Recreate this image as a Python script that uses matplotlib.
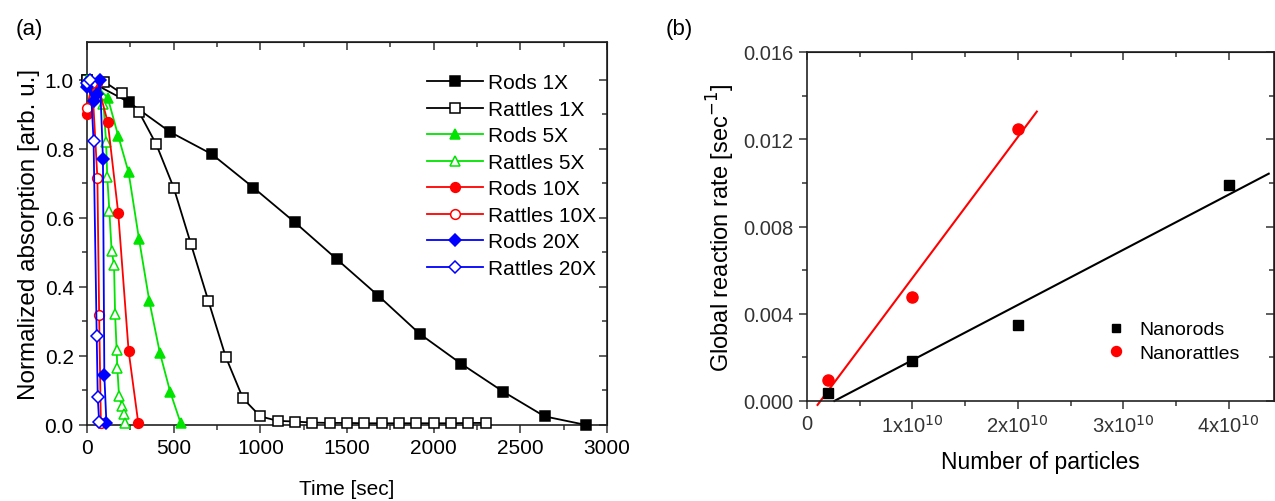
import numpy as np
import matplotlib
matplotlib.use("Agg")
import matplotlib.pyplot as plt
from matplotlib.ticker import MultipleLocator, FixedLocator

plt.rcParams['font.family'] = ['Liberation Sans', 'DejaVu Sans']

# ---- panel (a): normalized absorption vs time ----
rods1_t = [0, 240, 480, 720, 960, 1200, 1440, 1680, 1920, 2160, 2400, 2640, 2880]
rods1_y = [1.0, 0.936, 0.849, 0.785, 0.688, 0.587, 0.481, 0.375, 0.264, 0.177, 0.097, 0.025, 0.0]

rattles1_t = [0, 100, 200, 300, 400, 500, 600, 700, 800, 900, 1000, 1100, 1200,
              1300, 1400, 1500, 1600, 1700, 1800, 1900, 2000, 2100, 2200, 2300]
rattles1_y = [1.0, 0.995, 0.961, 0.907, 0.813, 0.688, 0.524, 0.360, 0.198, 0.077, 0.025,
              0.012, 0.01, 0.007, 0.006, 0.006, 0.005, 0.005, 0.005, 0.005, 0.005, 0.005, 0.006, 0.006]

rods5_t = [0, 60, 120, 180, 240, 300, 360, 420, 480, 540]
rods5_y = [1.0, 0.98, 0.948, 0.838, 0.732, 0.539, 0.358, 0.21, 0.096, 0.006]

rattles5_t = [0, 60, 95, 110, 117, 129, 142, 156, 162, 171, 175, 185, 200, 213, 219]
rattles5_y = [1.0, 0.98, 0.93, 0.82, 0.718, 0.621, 0.505, 0.464, 0.322, 0.218, 0.165,
              0.083, 0.056, 0.032, 0.006]

rods10_t = [0, 60, 120, 180, 240, 296]
rods10_y = [0.90, 0.99, 0.877, 0.615, 0.215, 0.005]

rattles10_t = [0, 30, 60, 70, 80]
rattles10_y = [0.92, 0.99, 0.715, 0.32, 0.005]

rods20_t = [0, 40, 60, 75, 92, 100, 112]
rods20_y = [0.98, 0.94, 0.96, 1.0, 0.772, 0.145, 0.005]

rattles20_t = [0, 20, 38, 56, 62, 70]
rattles20_y = [0.99, 1.0, 0.822, 0.258, 0.082, 0.008]

# ---- panel (b): global reaction rate vs number of particles ----
nrods_n = [0.2e10, 1e10, 2e10, 4e10]
nrods_k = [0.00037, 0.00182, 0.0035, 0.0099]
nrattles_n = [0.2e10, 1e10, 2e10]
nrattles_k = [0.00095, 0.00477, 0.01249]
nrods_fit_n = [0.26e10, 4.38e10]
nrattles_fit_n = [0.10e10, 2.18e10]
xb_ticks = [0, 1e10, 2e10, 3e10, 4e10]
xb_labels = ['0', r'1x10$^{10}$', r'2x10$^{10}$', r'3x10$^{10}$', r'4x10$^{10}$']

GREEN = '#00e400'
RED = '#ff0000'
BLUE = '#0000ff'

fig = plt.figure(figsize=(12.75, 5.02), dpi=100)
ax1 = fig.add_axes([87/1275, 1 - 426/502, 520/1275, 383/502])
ax2 = fig.add_axes([807/1275, 1 - 402/502, 467/1275, 349/502])

series = [
    (rods1_t, rods1_y, 'k', 's', True, 'Rods 1X'),
    (rattles1_t, rattles1_y, 'k', 's', False, 'Rattles 1X'),
    (rods5_t, rods5_y, GREEN, '^', True, 'Rods 5X'),
    (rattles5_t, rattles5_y, GREEN, '^', False, 'Rattles 5X'),
    (rods10_t, rods10_y, RED, 'o', True, 'Rods 10X'),
    (rattles10_t, rattles10_y, RED, 'o', False, 'Rattles 10X'),
    (rods20_t, rods20_y, BLUE, 'D', True, 'Rods 20X'),
    (rattles20_t, rattles20_y, BLUE, 'D', False, 'Rattles 20X'),
]
for t, y, c, m, filled, lab in series:
    ms = 6 if m == 'D' else 7
    ax1.plot(t, y, color=c, marker=m, ms=ms, lw=1.3, mew=1.1,
             mfc=c if filled else 'white', mec=c, label=lab, clip_on=False, zorder=3)

ax1.set_xlim(0, 3000)
ax1.set_ylim(0, 1.11)
ax1.xaxis.set_major_locator(MultipleLocator(500))
ax1.xaxis.set_minor_locator(MultipleLocator(250))
ax1.yaxis.set_major_locator(FixedLocator([0, 0.2, 0.4, 0.6, 0.8, 1.0]))
ax1.yaxis.set_minor_locator(FixedLocator([0.1, 0.3, 0.5, 0.7, 0.9]))
ax1.set_xlabel('Time [sec]', fontsize=15, labelpad=16)
ax1.set_ylabel('Normalized absorption [arb. u.]', fontsize=17.5, labelpad=3)
leg1 = ax1.legend(loc='upper right', bbox_to_anchor=(1.0, 0.945), frameon=False,
                  fontsize=15, handlelength=2.7, handletextpad=0.25,
                  labelspacing=0.36, borderaxespad=0.1)

ax2.plot(nrods_n, nrods_k, 's', color='k', ms=7, label='Nanorods', clip_on=False, zorder=3)
ax2.plot(nrattles_n, nrattles_k, 'o', color=RED, ms=8, label='Nanorattles', clip_on=False, zorder=3)
p_rods = np.polyfit(nrods_n, nrods_k, 1)
p_rat = np.polyfit(nrattles_n, nrattles_k, 1)
ax2.plot(nrods_fit_n, np.polyval(p_rods, nrods_fit_n), color='k', lw=1.5, clip_on=False)
ax2.plot(nrattles_fit_n, np.polyval(p_rat, nrattles_fit_n), color=RED, lw=1.5, clip_on=False)

ax2.set_xlim(0, 4.43e10)
ax2.set_ylim(0, 0.016)
ax2.xaxis.set_major_locator(FixedLocator(xb_ticks))
ax2.set_xticklabels(xb_labels)
ax2.xaxis.set_minor_locator(FixedLocator([0.5e10, 1.5e10, 2.5e10, 3.5e10]))
ax2.yaxis.set_major_locator(MultipleLocator(0.004))
ax2.yaxis.set_minor_locator(MultipleLocator(0.002))
ax2.yaxis.set_major_formatter(matplotlib.ticker.FormatStrFormatter('%.3f'))
ax2.set_xlabel('Number of particles', fontsize=16.5, labelpad=10)
ax2.set_ylabel(r'Global reaction rate [sec$^{-1}$]', fontsize=17, labelpad=5)
ax2.legend(loc='upper left', bbox_to_anchor=(0.6, 0.28), frameon=False, fontsize=14,
           handlelength=1.2, handletextpad=0.6, labelspacing=0.3, markerscale=0.9)

for ax in (ax1, ax2):
    ax.tick_params(which='both', direction='out', labelsize=15, width=1.1, color='#333333')
    ax.tick_params(which='major', length=6)
    ax.tick_params(which='minor', length=3.5)
    for s in ax.spines.values():
        s.set_linewidth(1.2)
        s.set_color('#222222')
    # mirrored inward ticks on top and right, like Origin
    top = ax.secondary_xaxis('top')
    top.set_xticks(ax.get_xticks(), labels=[])
    top.xaxis.set_minor_locator(ax.xaxis.get_minor_locator())
    top.tick_params(which='both', direction='in', color='#333333', width=1.1)
    top.tick_params(which='major', length=6)
    top.tick_params(which='minor', length=3.5)
    right = ax.secondary_yaxis('right')
    right.set_yticks(ax.get_yticks(), labels=[])
    right.yaxis.set_minor_locator(ax.yaxis.get_minor_locator())
    right.tick_params(which='both', direction='in', color='#333333', width=1.1)
    right.tick_params(which='major', length=6)
    right.tick_params(which='minor', length=3.5)

ax2.tick_params(labelsize=14.5, colors='#333333', labelcolor='#333333')

fig.text(16/1275, 1 - 30/502, '(a)', fontsize=16, va='center')
fig.text(666/1275, 1 - 30/502, '(b)', fontsize=16, va='center')

fig.savefig('out.png', dpi=100)
